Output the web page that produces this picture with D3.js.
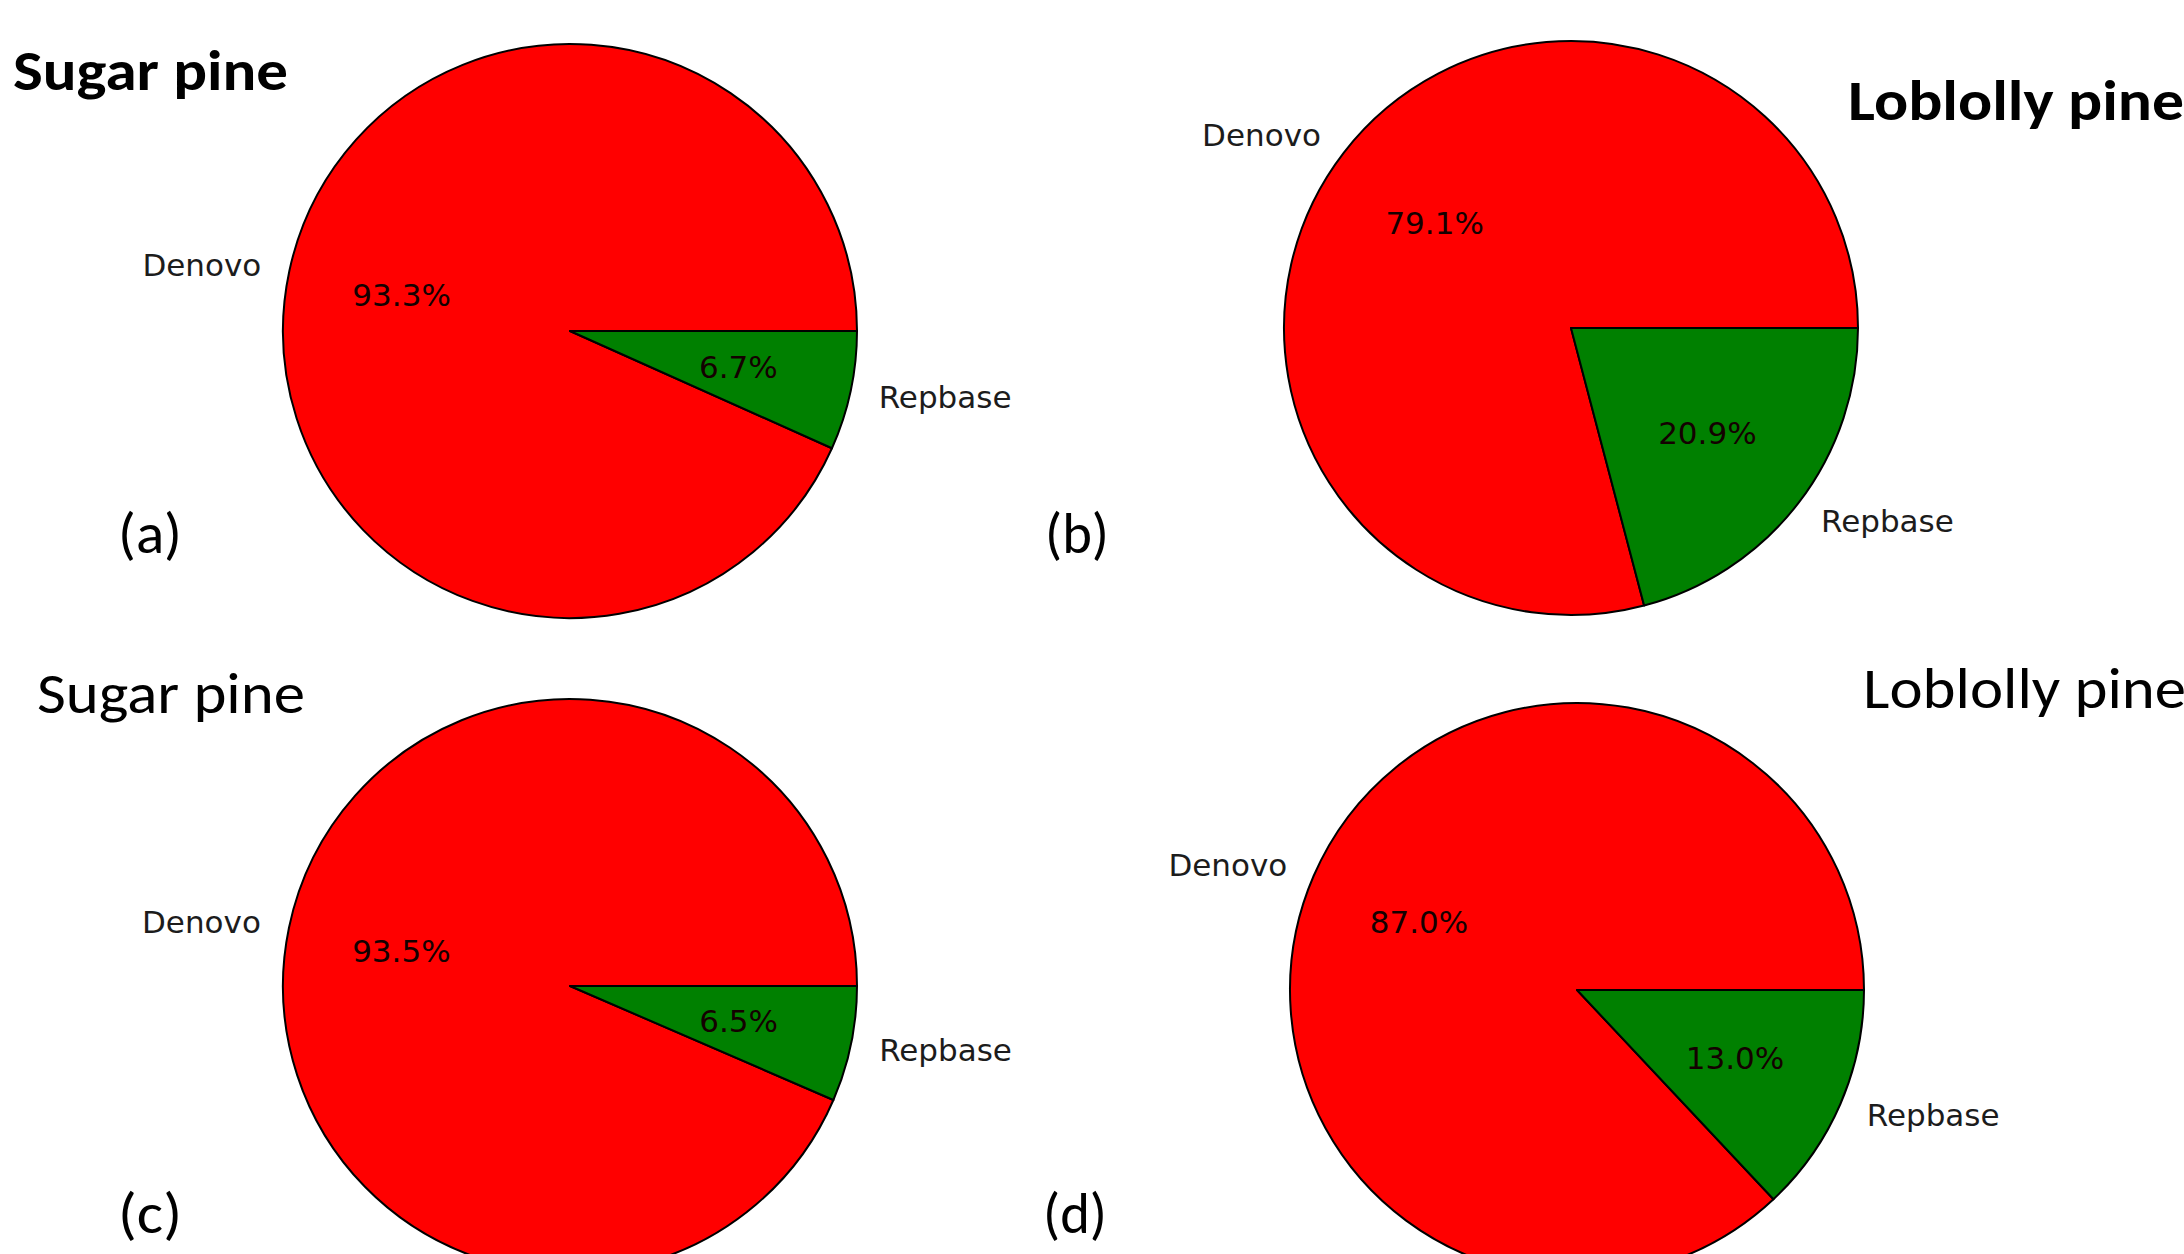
<!DOCTYPE html>
<html>
<head>
<meta charset="utf-8">
<script src="https://cdn.jsdelivr.net/npm/d3@7"></script>
<style>
  html, body { margin: 0; padding: 0; background: #ffffff; }
  svg { display: block; }
</style>
</head>
<body>
<svg id="chart" width="2184" height="1254"></svg>
<script>
// Repeat-library source shares per genome / annotation run
const panelTags = ["(a)", "(b)", "(c)", "(d)"];
const speciesNames = ["Sugar pine", "Loblolly pine", "Sugar pine", "Loblolly pine"];
const categories = ["Denovo", "Repbase"];
const denovoPct = [93.3, 79.1, 93.5, 87.0];
const repbasePct = [6.7, 20.9, 6.5, 13.0];
const sliceColors = ["#ff0000", "#008000"];

const W = 2184, H = 1254;
const svg = d3.select("#chart");

// layout of the 2x2 grid of pies
const layout = [
  { cx: 570,  cy: 331, r: 287, title: { x: 13,   y: 90,  w: 275, bold: true },  tag: { x: 118,  y: 553 } },
  { cx: 1571, cy: 328, r: 287, title: { x: 1848, y: 120, w: 336, bold: true },  tag: { x: 1045, y: 553 } },
  { cx: 570,  cy: 986, r: 287, title: { x: 37,   y: 713, w: 268, bold: false }, tag: { x: 118,  y: 1233 } },
  { cx: 1577, cy: 990, r: 287, title: { x: 1863, y: 708, w: 323, bold: false }, tag: { x: 1043, y: 1233 } }
];

// wedges start at 3 o'clock and run counter-clockwise
const pie = d3.pie().sort(null).value(d => d.value)
  .startAngle(Math.PI / 2).endAngle(Math.PI / 2 - 2 * Math.PI);
const color = d3.scaleOrdinal().domain(categories).range(sliceColors);
const fmt = v => d3.format(".1f")(v) + "%";

const titleFont = "Carlito, Calibri, Lato, 'Open Sans', sans-serif";
const plotFont = "'DejaVu Sans', Verdana, sans-serif";

layout.forEach((L, i) => {
  const data = [
    { cat: categories[0], value: denovoPct[i] },
    { cat: categories[1], value: repbasePct[i] }
  ];
  const arcs = pie(data);
  const arc = d3.arc().innerRadius(0).outerRadius(L.r);
  const labelArc = d3.arc().innerRadius(L.r * 1.1).outerRadius(L.r * 1.1);
  const pctArc = d3.arc().innerRadius(L.r * 0.6).outerRadius(L.r * 0.6);

  const g = svg.append("g").attr("transform", `translate(${L.cx},${L.cy})`);

  g.selectAll("path.slice").data(arcs).join("path")
    .attr("class", "slice")
    .attr("d", arc)
    .attr("fill", d => color(d.data.cat))
    .attr("stroke", "#000")
    .attr("stroke-width", 2)
    .attr("stroke-linejoin", "round");

  g.selectAll("text.cat").data(arcs).join("text")
    .attr("class", "cat")
    .attr("x", d => labelArc.centroid(d)[0])
    .attr("y", d => labelArc.centroid(d)[1])
    .attr("text-anchor", d => labelArc.centroid(d)[0] > 0 ? "start" : "end")
    .attr("dominant-baseline", "central")
    .attr("font-family", plotFont)
    .attr("font-size", 31)
    .attr("fill", "#1c1c1c")
    .text(d => d.data.cat);

  g.selectAll("text.pct").data(arcs).join("text")
    .attr("class", "pct")
    .attr("x", d => pctArc.centroid(d)[0])
    .attr("y", d => pctArc.centroid(d)[1])
    .attr("text-anchor", "middle")
    .attr("dominant-baseline", "central")
    .attr("font-family", plotFont)
    .attr("font-size", 31)
    .attr("fill", "#140000")
    .text(d => fmt(d.data.value));

  svg.append("text")
    .attr("x", L.title.x).attr("y", L.title.y)
    .attr("font-family", titleFont)
    .attr("font-weight", L.title.bold ? 700 : 400)
    .attr("font-size", 57)
    .attr("textLength", L.title.w)
    .attr("lengthAdjust", "spacingAndGlyphs")
    .attr("fill", "#000")
    .text(speciesNames[i]);

  svg.append("text")
    .attr("x", L.tag.x).attr("y", L.tag.y)
    .attr("font-family", titleFont)
    .attr("font-size", 57)
    .attr("textLength", 64)
    .attr("lengthAdjust", "spacingAndGlyphs")
    .attr("fill", "#000")
    .text(panelTags[i]);
});
</script>
</body>
</html>
